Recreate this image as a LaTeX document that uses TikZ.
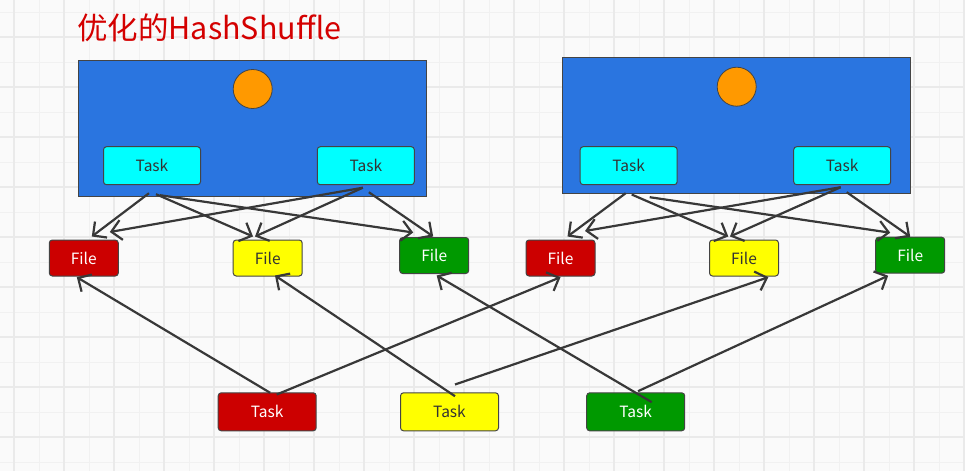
\documentclass[tikz,border=0pt]{standalone}
\usepackage{fontspec}
\setmainfont{Noto Sans CJK SC}
\usetikzlibrary{arrows.meta,calc}
\definecolor{bgc}{HTML}{FAFAFA}
\definecolor{gridminor}{HTML}{F1F1F1}
\definecolor{gridmajor}{HTML}{EAEAEA}
\definecolor{bigblue}{HTML}{2A75E0}
\definecolor{orangec}{HTML}{FF9900}
\definecolor{cyanc}{HTML}{00FFFF}
\definecolor{redc}{HTML}{CC0000}
\definecolor{yellowc}{HTML}{FFFF00}
\definecolor{greenc}{HTML}{009900}
\definecolor{edgec}{HTML}{383838}
\definecolor{borderc}{HTML}{444444}
\definecolor{titlec}{HTML}{D40000}
\definecolor{textdark}{HTML}{333333}
\tikzset{
  bigbox/.style={draw=borderc, line width=1pt, fill=bigblue, minimum width=348pt, minimum height=136pt, inner sep=0pt},
  ball/.style={circle, draw=borderc, line width=0.8pt, fill=orangec, minimum size=39pt, inner sep=0pt},
  taskbox/.style={draw=borderc, line width=1pt, rounded corners=3pt, minimum width=97pt, minimum height=38pt, inner sep=0pt, font=\fontsize{15.5}{18}\selectfont},
  filebox/.style={draw=borderc, line width=1pt, rounded corners=3pt, minimum width=69pt, minimum height=36pt, inner sep=0pt, font=\fontsize{15.5}{18}\selectfont},
  conn/.style={draw=edgec, line width=2.2pt, -{Straight Barb[length=10pt,width=20pt,line width=2.2pt]}},
}
\begin{document}
\begin{tikzpicture}[x=1pt,y=-1pt]
\useasboundingbox (0,0) rectangle (965,471);
\fill[bgc] (0,0) rectangle (965,471);
% grid
\foreach \x in {39,89,...,964} \draw[gridminor, line width=1pt] (\x,0) -- (\x,471);
\foreach \y in {12,62,...,470} \draw[gridminor, line width=1pt] (0,\y) -- (965,\y);
\foreach \x in {14,64,...,964} \draw[gridmajor, line width=1.4pt] (\x,0) -- (\x,471);
\foreach \y in {37,87,...,470} \draw[gridmajor, line width=1.4pt] (0,\y) -- (965,\y);

% title
\node[anchor=base west, inner sep=0pt, text=titlec, font=\fontsize{30.5}{34}\selectfont] (title) at (77,39.5) {优化的HashShuffle};

% big boxes
\node[bigbox] (boxL) at (252,128) {};
\node[bigbox] (boxR) at (736,125.5) {};
\node[ball] (ballL) at (252.7,89) {};
\node[ball] (ballR) at (736.7,86.7) {};

% top tasks
\node[taskbox, fill=cyanc, text=textdark] (tL1) at (152,165.7) {Task};
\node[taskbox, fill=cyanc, text=textdark] (tL2) at (365.8,165.7) {Task};
\node[taskbox, fill=cyanc, text=textdark] (tR1) at (628.7,165.7) {Task};
\node[taskbox, fill=cyanc, text=textdark] (tR2) at (842.2,165.7) {Task};

% files
\node[filebox, fill=redc, text=white] (fLr) at (83.8,258) {File};
\node[filebox, fill=yellowc, text=textdark] (fLy) at (267.7,258) {File};
\node[filebox, fill=greenc, text=white] (fLg) at (434.2,255.5) {File};
\node[filebox, fill=redc, text=white] (fRr) at (560.5,258) {File};
\node[filebox, fill=yellowc, text=textdark] (fRy) at (744,258) {File};
\node[filebox, fill=greenc, text=white] (fRg) at (910.2,255.2) {File};

% bottom tasks
\node[taskbox, fill=redc, text=white, minimum width=98pt] (bR) at (267.2,411.8) {Task};
\node[taskbox, fill=yellowc, text=textdark, minimum width=98pt] (bY) at (449.5,411.8) {Task};
\node[taskbox, fill=greenc, text=white, minimum width=98pt] (bG) at (635.7,411.8) {Task};

% top edges, left group
\draw[conn] ($(tL1.south)+(-3,8)$) -- ($(fLr.north)+(8,-3)$);
\draw[conn] ($(tL1.south)+(4,9)$) -- ($(fLy.north)+(-14.7,-3)$);
\draw[conn] ($(tL1.south)+(8,10)$) -- ($(fLg.north)+(-21,-4.5)$);
\draw[conn] ($(tL2.south)+(-3,2.5)$) -- ($(fLr.north)+(26,-7.5)$);
\draw[conn] ($(tL2.south)+(-3,2.5)$) -- ($(fLy.north)+(-12.7,-3)$);
\draw[conn] ($(tL2.south)+(3,7)$) -- ($(fLg.north)+(-1,-0.5)$);

% top edges, right group
\draw[conn] ($(tR1.south)+(-3,8)$) -- ($(fRr.north)+(7,-3)$);
\draw[conn] ($(tR1.south)+(3,9.3)$) -- ($(fRy.north)+(-15.7,-3)$);
\draw[conn] ($(tR1.south)+(21,12)$) -- ($(fRg.north)+(-20,-4)$);
\draw[conn] ($(tR2.south)+(-1.5,2)$) -- ($(fRr.north)+(24.5,-8.5)$);
\draw[conn] ($(tR2.south)+(-1.5,2)$) -- ($(fRy.north)+(-14,-3)$);
\draw[conn] ($(tR2.south)+(4.5,7)$) -- ($(fRg.north)+(0,0)$);

% bottom edges
\draw[conn] ($(bR.north)+(3,0.5)$) -- ($(fLr.south)+(-7,0.7)$);
\draw[conn] ($(bR.north)+(9.5,2.2)$) -- ($(fRr.south)+(0,0.7)$);
\draw[conn] ($(bY.north)+(5.5,3.9)$) -- ($(fLy.south)+(7.3,-1)$);
\draw[conn] ($(bY.north)+(5.5,-7.8)$) -- ($(fRy.south)+(24.3,0.7)$);
\draw[conn] ($(bG.north)+(16,9.9)$) -- ($(fLg.south)+(2.5,1.5)$);
\draw[conn] ($(bG.north)+(2.3,-1.1)$) -- ($(fRg.south)+(-22,2)$);
\end{tikzpicture}
\end{document}
